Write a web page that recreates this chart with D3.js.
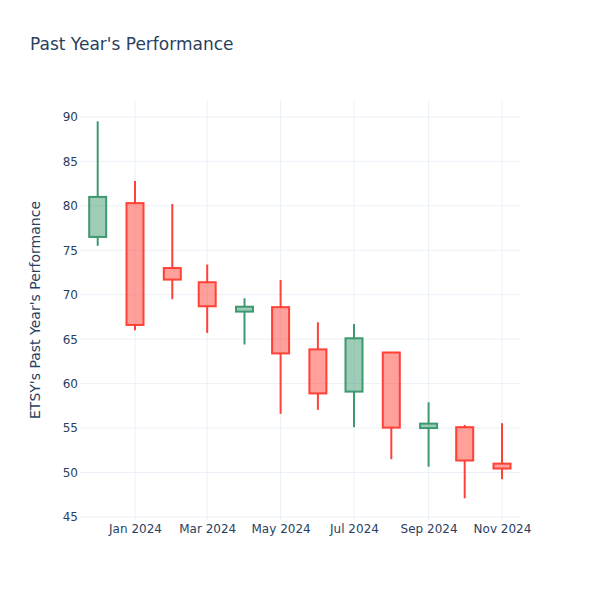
<!DOCTYPE html>
<html>
<head>
<meta charset="utf-8">
<script src="https://cdn.jsdelivr.net/npm/d3@7/dist/d3.min.js"></script>
<style>
  body { margin: 0; background: #fff; }
  text { font-family: "DejaVu Sans", "Open Sans", sans-serif; }
</style>
</head>
<body>
<svg id="chart" width="600" height="600"></svg>
<script>
const dates = ["2023-12-01","2024-01-01","2024-02-01","2024-03-01","2024-04-01","2024-05-01",
               "2024-06-01","2024-07-01","2024-08-01","2024-09-01","2024-10-01","2024-11-01"];
const opens  = [76.5, 80.3, 73.0, 71.4, 68.1, 68.6, 63.85, 59.1, 63.5, 55.0, 55.1, 51.0];
const highs  = [89.5, 82.8, 80.2, 73.4, 69.6, 71.65, 66.9, 66.7, 63.5, 57.9, 55.35, 55.55];
const lows   = [75.5, 66.0, 69.5, 65.7, 64.4, 56.6, 57.05, 55.1, 51.5, 50.65, 47.1, 49.25];
const closes = [81.0, 66.6, 71.7, 68.7, 68.65, 63.4, 58.9, 65.1, 55.05, 55.5, 51.35, 50.45];
const yTicks = [45, 50, 55, 60, 65, 70, 75, 80, 85, 90];
const xTicks = ["2024-01-01","2024-03-01","2024-05-01","2024-07-01","2024-09-01","2024-11-01"];

const W = 600, H = 600;
const m = {l: 80, r: 80, t: 100, b: 80};
const parse = d3.utcParse("%Y-%m-%d");
const svg = d3.select("#chart");

const x = d3.scaleUtc()
  .domain([new Date(Date.UTC(2023, 10, 16, 7)), new Date(Date.UTC(2024, 10, 15, 23))])
  .range([m.l, W - m.r]);
const y = d3.scaleLinear().domain([44.66, 91.9]).range([H - m.b, m.t]);

const gridColor = "#ebf0f8";
const textColor = "#2a3f5f";

// grid
svg.append("g").selectAll("line").data(yTicks).join("line")
  .attr("x1", m.l).attr("x2", W - m.r)
  .attr("y1", d => y(d)).attr("y2", d => y(d))
  .attr("stroke", gridColor).attr("stroke-width", 1);
svg.append("g").selectAll("line").data(xTicks).join("line")
  .attr("x1", d => x(parse(d))).attr("x2", d => x(parse(d)))
  .attr("y1", m.t).attr("y2", H - m.b)
  .attr("stroke", gridColor).attr("stroke-width", 1);

// axes labels
const yAxis = d3.axisLeft(y).tickValues(yTicks).tickSize(0).tickPadding(0);
const gy = svg.append("g").attr("transform", `translate(${m.l - 2},0)`).call(yAxis);
gy.select(".domain").remove();
gy.selectAll("text").attr("fill", textColor).attr("font-size", 12)
  .attr("font-family", "\"DejaVu Sans\", sans-serif");

const xAxis = d3.axisBottom(x).tickValues(xTicks.map(parse)).tickFormat(d3.utcFormat("%b %Y"))
  .tickSize(0).tickPadding(0);
const gx = svg.append("g").attr("transform", `translate(0,${H - m.b + 4})`).call(xAxis);
gx.select(".domain").remove();
gx.selectAll("text").attr("fill", textColor).attr("font-size", 12)
  .attr("font-family", "\"DejaVu Sans\", sans-serif");

// candles
const data = dates.map((d, i) => ({date: parse(d), o: opens[i], h: highs[i], l: lows[i], c: closes[i]}));
const bw = 17;
const g = svg.append("g");
data.forEach(d => {
  const up = d.c >= d.o;
  const stroke = up ? "#3d9970" : "#ff4136";
  const fill = up ? "rgba(61,153,112,0.5)" : "rgba(255,65,54,0.5)";
  const cx = x(d.date);
  const top = y(Math.max(d.o, d.c)), bot = y(Math.min(d.o, d.c));
  g.append("line").attr("x1", cx).attr("x2", cx).attr("y1", y(d.h)).attr("y2", top)
    .attr("stroke", stroke).attr("stroke-width", 2);
  g.append("line").attr("x1", cx).attr("x2", cx).attr("y1", bot).attr("y2", y(d.l))
    .attr("stroke", stroke).attr("stroke-width", 2);
  g.append("rect").attr("x", cx - bw / 2).attr("width", bw)
    .attr("y", top).attr("height", Math.max(bot - top, 0.5))
    .attr("fill", fill).attr("stroke", stroke).attr("stroke-width", 2);
});

// title
svg.append("text").attr("x", 30).attr("y", 50).attr("fill", textColor)
  .attr("font-size", 17).text("Past Year's Performance");

// y label
svg.append("text")
  .attr("transform", `translate(40,${(m.t + H - m.b) / 2}) rotate(-90)`)
  .attr("text-anchor", "middle").attr("fill", textColor).attr("font-size", 14)
  .text("ETSY's Past Year's Performance");
</script>
</body>
</html>
